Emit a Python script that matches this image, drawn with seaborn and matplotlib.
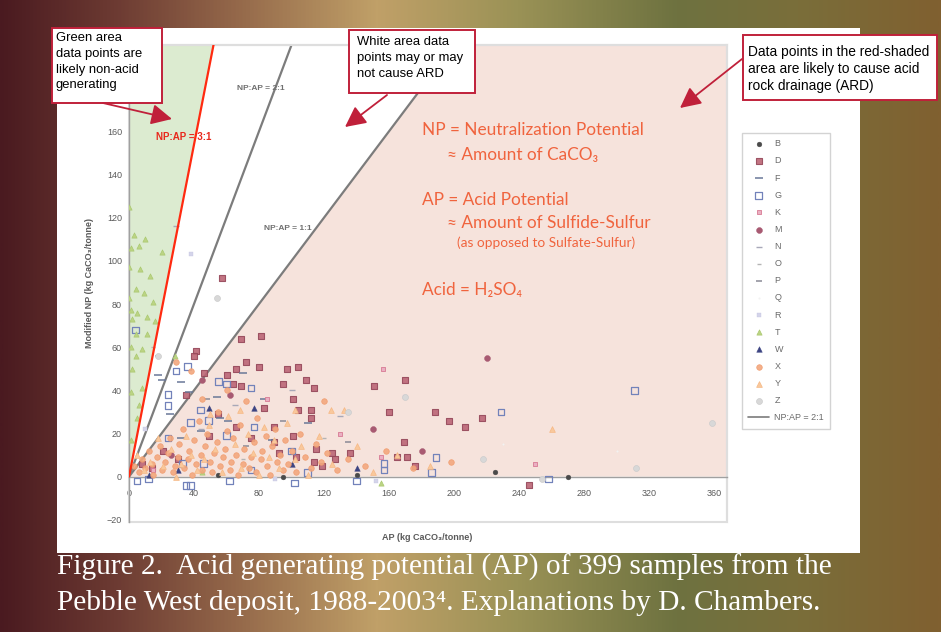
import matplotlib
matplotlib.use("Agg")
import numpy as np
import pandas as pd
import matplotlib.pyplot as plt
import seaborn as sns
from matplotlib.patches import Polygon, Rectangle
from matplotlib.lines import Line2D
from matplotlib.colors import LinearSegmentedColormap

# ---- data (AP, NP in kg CaCO3/tonne) --------------------------------------
SAMPLES = ["B", "D", "F", "G", "K", "M", "N", "O", "P", "Q", "R", "T", "W", "X", "Y", "Z"]

B_AP = [270, 225, 140, 95, 55]
B_NP = [0, 2, 1, 0, 1]

D_AP = [69, 81, 41, 72, 66, 80, 60, 64, 69, 97, 104, 95, 109, 114, 101, 104, 112, 112, 83, 89,
        66, 49, 101, 35, 115, 114, 57, 170, 151, 188, 197, 207, 217, 169, 136, 125, 127, 165,
        171, 176, 246, 8, 14, 21, 30, 55, 75, 89, 92, 103, 119, 160, 40, 46]
D_NP = [64, 65, 58, 53, 50, 51, 47, 43, 42, 50, 51, 43, 45, 41, 36, 31, 31, 27, 32, 23,
        23, 19, 19, 38, 13, 7, 92, 45, 42, 30, 26, 23, 27, 16, 11, 11, 8, 9,
        9, 5, -4, 6, 4, 12, 8, 29, 18, 16, 11, 9, 5, 30, 56, 48]

F_AP = [20, 32, 54, 83, 56, 61, 37, 25, 32, 88, 18, 70, 110, 44]
F_NP = [45, 44, 37, 36, 27, 26, 39, 29, 18, 17, 47, 48, 25, 21]

G_AP = [4, 29, 24, 24, 55, 60, 75, 44, 49, 38, 24, 33, 35, 38, 62, 102, 77, 60, 46, 100,
        189, 186, 157, 157, 229, 311, 5, 12, 75, 110, 140, 36, 258]
G_NP = [68, 49, 38, 33, 44, 43, 41, 31, 26, 25, 18, 6, -4, -4, -2, -3, 23, 19, 6, 12,
        9, 2, 6, 3, 30, 40, -2, -1, 3, 2, -2, 51, -1]

K_AP = [156, 155, 250, 85, 130, 15]
K_NP = [50, 9, 6, 36, 20, 3]

M_AP = [220, 150, 62, 45, 180, 26]
M_NP = [55, 22, 38, 45, 12, 10]

N_AP = [29, 44, 65, 100, 130]
N_NP = [116, 22, 33, 40, 28]

O_AP = [15, 120, 70]
O_NP = [60, 18, 8]

P_AP = [18, 48, 72, 95, 135]
P_NP = [56, 36, 14, 26, 16]

Q_AP = [230, 300]
Q_NP = [15, 12]

R_AP = [38, 152, 170, 10, 90]
R_NP = [103, -2, 37, 22, -1]

T_AP = [6, 1, 20, 0, 7, 4, 0, 15, 1, 5, 11, 2, 4, 11, 1, 8, 4, 1, 8, 5, 1, 0, 3, 10, 13,
        2, 6, 16, 9, 28, 155, 45]
T_NP = [107, 106, 104, 97, 96, 87, 83, 81, 77, 76, 74, 73, 66, 66, 60, 59, 56, 39, 41, 27,
        17, 125, 112, 110, 93, 50, 33, 72, 85, 56, -3, 2]

W_AP = [77, 49, 100, 140, 30, 12]
W_NP = [32, 32, 6, 4, 3, 1]

X_AP = [3, 6, 8, 10, 12, 14, 15, 17, 19, 20, 22, 24, 25, 27, 28, 30, 31, 33, 34, 36, 37, 39,
        40, 41, 43, 44, 45, 47, 48, 50, 51, 52, 54, 55, 56, 58, 59, 60, 62, 63, 64, 66, 67,
        68, 70, 71, 72, 74, 75, 77, 78, 79, 81, 82, 84, 85, 87, 88, 90, 91, 93, 95, 96, 98,
        100, 103, 105, 108, 112, 115, 118, 122, 128, 135, 145, 158, 175, 198, 60, 45, 38, 29, 120]
X_NP = [5, 2, 8, 4, 12, 6, 1, 9, 14, 3, 7, 11, 18, 2, 5, 9, 15, 22, 4, 8, 12, 1,
        17, 6, 26, 10, 3, 14, 20, 7, 2, 11, 16, 30, 5, 9, 13, 21, 3, 7, 18, 10, 1,
        24, 6, 13, 35, 4, 9, 16, 2, 27, 8, 12, 19, 5, 1, 14, 22, 7, 10, 3, 17, 6,
        12, 2, 20, 9, 4, 15, 7, 11, 3, 8, 5, 12, 4, 7, 40, 36, 49, 53, 35]

Y_AP = [5, 9, 13, 18, 21, 26, 29, 32, 35, 38, 42, 46, 49, 53, 57, 61, 65, 69, 73, 76, 80,
        83, 86, 89, 92, 97, 102, 106, 110, 117, 125, 132, 140, 150, 165, 185, 260, 124, 68,
        50, 102]
Y_NP = [10, 3, 7, 18, 5, 13, 0, 6, 19, 10, 3, 8, 24, 13, 2, 28, 15, 4, 20, 11, 1,
        23, 9, 17, 4, 25, 8, 14, 1, 19, 6, 31, 14, 2, 10, 5, 22, 31, 31, 29, 31]

Z_AP = [54, 18, 135, 312, 359, 218, 254, 170]
Z_NP = [83, 56, 30, 4, 25, 8, -1, 37]

# ratio lines (hand-drawn in the original, 3:1 drawn a little steep)
LINE_21 = ([0, 100], [0, 200])
LINE_11 = ([0, 200], [0, 200])
LINE_31 = ([0, 52], [0, 200])

X_TICKS = list(range(0, 361, 40))
Y_TICKS = list(range(-20, 161, 20))

CAPTION = ["Figure 2.  Acid generating potential (AP) of 399 samples from the",
           "Pebble West deposit, 1988-2003\u2074. Explanations by D. Chambers."]

data = {
    "B": (B_AP, B_NP), "D": (D_AP, D_NP), "F": (F_AP, F_NP), "G": (G_AP, G_NP),
    "K": (K_AP, K_NP), "M": (M_AP, M_NP), "N": (N_AP, N_NP), "O": (O_AP, O_NP),
    "P": (P_AP, P_NP), "Q": (Q_AP, Q_NP), "R": (R_AP, R_NP), "T": (T_AP, T_NP),
    "W": (W_AP, W_NP), "X": (X_AP, X_NP), "Y": (Y_AP, Y_NP), "Z": (Z_AP, Z_NP),
}

# marker styles per sample group
styles = {
    "B": dict(marker="o", s=12, color="#4a4a4a", edgecolor="#4a4a4a"),
    "D": dict(marker="s", s=24, color="#bc6676", edgecolor="#96485a", linewidth=0.8, alpha=0.9),
    "F": dict(marker="_", s=26, color="#6a7898", linewidth=1.1),
    "G": dict(marker="s", s=22, facecolor="none", edgecolor="#7282ba", linewidth=0.9),
    "K": dict(marker="s", s=12, color="#eab0c2", edgecolor="#d87a94", linewidth=0.6),
    "M": dict(marker="o", s=18, color="#a85a72", edgecolor="#a85a72"),
    "N": dict(marker="_", s=18, color="#a8a8b8", linewidth=1.0),
    "O": dict(marker="_", s=9, color="#b4b4b4", linewidth=1.0),
    "P": dict(marker="_", s=22, color="#8a8a96", linewidth=1.1),
    "Q": dict(marker=".", s=6, color="#f2f2f2", edgecolor="#f2f2f2"),
    "R": dict(marker="s", s=11, color="#d4d4ea", edgecolor="#c4c4e0"),
    "T": dict(marker="^", s=14, color="#bcd484", edgecolor="#aac870", linewidth=0.5),
    "W": dict(marker="^", s=16, color="#3c4482", edgecolor="#3c4482"),
    "X": dict(marker="o", s=16, color="#f3a87e", edgecolor="#f09a6c", linewidth=0.5, alpha=0.9),
    "Y": dict(marker="^", s=17, color="#f9c89c", edgecolor="#f6b884", linewidth=0.5),
    "Z": dict(marker="o", s=18, color="#d8d8d8", edgecolor="#cccccc", linewidth=0.5),
}

W, H = 941, 632
SANS = ["Liberation Sans", "DejaVu Sans"]
CALIBRI = ["Lato", "DejaVu Sans"]
SERIF = ["Liberation Serif", "DejaVu Serif"]
ORANGE = "#f0643e"
CRIMSON = "#c0203a"

sns.set_theme(style="white")
plt.rcParams["font.family"] = SANS

fig = plt.figure(figsize=(W / 100, H / 100), dpi=100)

# background gradient + white panel
bg = fig.add_axes([0, 0, 1, 1], zorder=-2)
cmap = LinearSegmentedColormap.from_list("bg", [
    (0.0, "#4a1a20"), (0.12, "#6c3a32"), (0.25, "#94684a"), (0.40, "#c0a068"),
    (0.55, "#9a9256"), (0.72, "#6e7240"), (0.85, "#7a6e3a"), (1.0, "#806030")])
bg.imshow(np.linspace(0, 1, 512)[None, :], aspect="auto", cmap=cmap, extent=(0, W, H, 0))
bg.add_patch(Rectangle((57, 28), 803, 525, facecolor="white", edgecolor="none"))
bg.set_xlim(0, W)
bg.set_ylim(H, 0)
bg.axis("off")

# main chart
ax = fig.add_axes([129 / W, 1 - 522 / H, (727 - 129) / W, (522 - 45) / H], zorder=0)
ax.set_facecolor("white")
ax.set_xlim(0, 368)
ax.set_ylim(-21, 200)

ax.add_patch(Polygon([(0, 0), (LINE_31[0][1], LINE_31[1][1]), (0, 200)],
                     facecolor="#dcebd0", edgecolor="none", zorder=0.5))
ax.add_patch(Polygon([(0, 0), (LINE_11[0][1], LINE_11[1][1]), (368, 200), (368, 0)],
                     facecolor="#f6e3dc", edgecolor="none", zorder=0.5))

for name in SAMPLES:
    xs, ys = data[name]
    sns.scatterplot(x=xs, y=ys, ax=ax, label=name, zorder=3, **styles[name])

ax.plot(*LINE_21, color="#7c7c7c", lw=1.6, zorder=2)
ax.plot(*LINE_11, color="#7c7c7c", lw=1.6, zorder=2)
ax.plot(*LINE_31, color="#ff2a10", lw=1.6, zorder=4)

ax.set_xticks(X_TICKS)
ax.set_yticks(Y_TICKS)
ax.tick_params(axis="both", direction="out", length=3, width=0.8, color="#8a8a8a",
               labelsize=6.5, labelcolor="#5a5a5a", pad=2)
ax.tick_params(axis="x", pad=6)
ax.spines["bottom"].set_position(("data", 0))
for side in ["left", "bottom"]:
    ax.spines[side].set_color("#a0a0a0")
    ax.spines[side].set_linewidth(1.0)
for side in ["top", "right"]:
    ax.spines[side].set_color("#dedede")
    ax.spines[side].set_linewidth(1.5)
ax.add_patch(Rectangle((0, 0), 1, 1, transform=ax.transAxes, fill=False,
                       edgecolor="#dedede", lw=1.5, clip_on=False, zorder=1))
ax.set_xlabel("")
ax.set_ylabel("")

handles, labels = ax.get_legend_handles_labels()
handles.append(Line2D([], [], color="#7c7c7c", lw=1.2))
labels.append("NP:AP = 2:1")
leg = ax.legend(handles, labels, loc="upper left", bbox_to_anchor=(742 / W, 1 - 133 / H),
                bbox_transform=fig.transFigure, fontsize=6.5, labelspacing=0.9,
                handlelength=2.3, handletextpad=0.6, borderpad=0.7, frameon=True,
                fancybox=False, edgecolor="#c8c8c8", borderaxespad=0)
leg.get_frame().set_linewidth(1.0)
for t in leg.get_texts():
    t.set_color("#6a6a6a")

# overlay for annotations, in pixel coordinates
ov = fig.add_axes([0, 0, 1, 1], zorder=10)
ov.set_xlim(0, W)
ov.set_ylim(H, 0)
ov.axis("off")
ov.patch.set_alpha(0)

ov.text(90, 283, "Modified NP (kg CaCO\u2083/tonne)", rotation=90, ha="center", va="center",
        fontsize=6.5, color="#5a5a5a", fontweight="bold", family=SANS)
ov.text(427, 538, "AP (kg CaCO\u2083/tonne)", ha="center", va="center",
        fontsize=6.5, color="#5a5a5a", fontweight="bold", family=SANS)

ov.text(261, 88, "NP:AP = 2:1", ha="center", va="center", fontsize=6, color="#707070",
        fontweight="bold", family=SANS)
ov.text(288, 228, "NP:AP = 1:1", ha="center", va="center", fontsize=6, color="#707070",
        fontweight="bold", family=SANS)
ov.text(184, 137, "NP:AP = 3:1", ha="center", va="center", fontsize=7, color="#e8281c",
        fontweight="bold", family=SANS)

ov.text(422, 130, "NP = Neutralization Potential", fontsize=12.4, color=ORANGE, va="center", family=CALIBRI)
ov.text(447, 155, "\u2248 Amount of CaCO\u2083", fontsize=12.4, color=ORANGE, va="center", family=CALIBRI)
ov.text(422, 200, "AP = Acid Potential", fontsize=12.4, color=ORANGE, va="center", family=CALIBRI)
ov.text(447, 223, "\u2248 Amount of Sulfide-Sulfur", fontsize=12.4, color=ORANGE, va="center", family=CALIBRI)
ov.text(457, 243, "(as opposed to Sulfate-Sulfur)", fontsize=9.8, color=ORANGE, va="center", family=CALIBRI)
ov.text(422, 290, "Acid = H\u2082SO\u2084", fontsize=12.4, color=ORANGE, va="center", family=CALIBRI)

boxes = [
    ((52, 28, 162, 103), 56, [38, 54, 70, 85],
     ["Green area", "data points are", "likely non-acid", "generating"], 9.4),
    ((349, 30, 475, 93), 357, [42, 58, 74],
     ["White area data", "points may or may", "not cause ARD"], 9.4),
    ((743, 35, 937, 100), 748, [52, 69, 86],
     ["Data points in the red-shaded", "area are likely to cause acid", "rock drainage (ARD)"], 9.9),
]
for (x0, y0, x1, y1), tx, ys, lines, fs in boxes:
    ov.add_patch(Rectangle((x0, y0), x1 - x0, y1 - y0, facecolor="white", edgecolor=CRIMSON, lw=1.4))
    for ty, line in zip(ys, lines):
        ov.text(tx, ty, line, fontsize=fs, color="black", va="center", ha="left", family=SANS)

arrows = [((103, 103), (172, 119)), ((387, 95), (345, 127)), ((742, 59), (680, 108))]
for (sx, sy), (ex, ey) in arrows:
    ov.annotate("", xy=(ex, ey), xytext=(sx, sy),
                arrowprops=dict(arrowstyle="-|>,head_length=0.7,head_width=0.35", color=CRIMSON,
                                lw=1.3, mutation_scale=18, shrinkA=0, shrinkB=0))

ov.text(57, 567, CAPTION[0], fontsize=21.2, color="white", va="center", family=SERIF)
ov.text(57, 603, CAPTION[1], fontsize=21.2, color="white", va="center", family=SERIF)

fig.savefig("out.png", dpi=100)
